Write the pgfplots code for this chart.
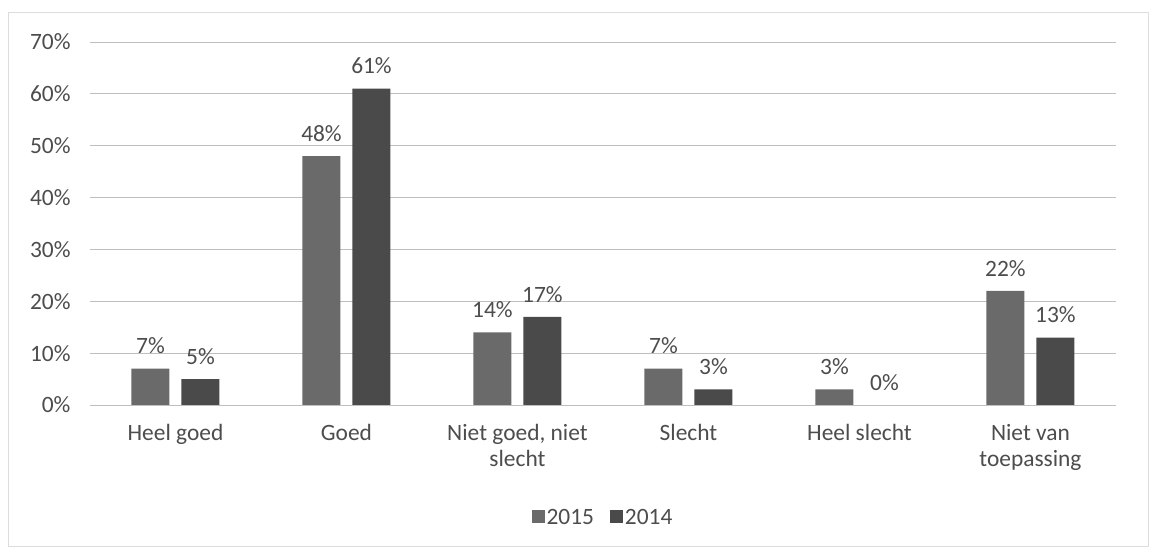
\documentclass[border=0pt]{standalone}
\usepackage{pgfplots}
\pgfplotsset{compat=1.18}
\usepackage{fontspec}
\setmainfont{Carlito}
\definecolor{txt}{HTML}{4D4D4D}
\definecolor{cA}{HTML}{6A6A6A}
\definecolor{cB}{HTML}{4A4A4A}
\definecolor{grid}{HTML}{DDDDDD}
\begin{document}
\begin{tikzpicture}
\useasboundingbox[fill=white] (0,0) rectangle (1158bp,553bp);
\draw[grid, line width=1bp] (8bp,6bp) rectangle (1148bp,540bp);
\begin{axis}[
  at={(90bp,148bp)}, anchor=south west,
  scale only axis, width=1026bp, height=363bp,
  ybar=12bp, bar width=38bp,
  xmin=-0.5, xmax=5.5, ymin=0, ymax=70,
  xtick=data,
  xticklabels={Heel goed, Goed, {Niet goed, niet\\slecht}, Slecht, Heel slecht, {Niet van\\toepassing}},
  ytick={0,10,...,70},
  yticklabel={\pgfmathprintnumber{\tick}\%},
  /pgf/number format/assume math mode=true,
  axis line style={draw=none},
  major tick length=0pt,
  xmajorgrids=false, ymajorgrids=true, grid style={grid, line width=1bp},
  font=\fontsize{23.5}{26}\selectfont,
  ticklabel style={text=txt},
  xticklabel style={align=center, yshift=-16bp},
  yticklabel style={xshift=-16bp},
  nodes near coords={\pgfmathprintnumber{\pgfplotspointmeta}\%},
  every node near coord/.append style={text=txt, yshift=11bp, font=\fontsize{23.5}{26}\selectfont},
  legend style={draw=none, at={(0.5,-0.309)}, anchor=center, legend columns=2, text=txt, font=\fontsize{23.5}{26}\selectfont},
  /tikz/every even column/.append style={column sep=14bp},
  legend image code/.code={\fill[#1] (0bp,-6bp) rectangle (13bp,7bp);},
]
\addplot[fill=cA, draw=none] coordinates {(0,7) (1,48) (2,14) (3,7) (4,3) (5,22)};
\addplot[fill=cB, draw=none] coordinates {(0,5) (1,61) (2,17) (3,3) (4,0) (5,13)};
\legend{2015,2014}
\end{axis}
\end{tikzpicture}
\end{document}
